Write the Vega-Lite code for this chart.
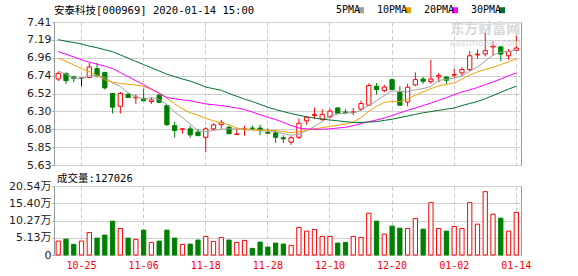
{
"$schema":"https://vega.github.io/schema/vega-lite/v6.json",
"background":"white",
"padding":{"left":8,"top":5,"right":5,"bottom":2},
"bounds":"flush",
"spacing":21,
"data":{"values":[
{"date":"2019-10-22","o":6.70,"h":6.79,"l":6.675,"c":6.77,"v":4.15,"5PMA":6.80,"10PMA":6.96,"20PMA":7.04,"30PMA":7.19},
{"date":"2019-10-23","o":6.77,"h":6.78,"l":6.64,"c":6.68,"v":4.74,"5PMA":6.76,"10PMA":6.92,"20PMA":7.01,"30PMA":7.17},
{"date":"2019-10-24","o":6.73,"h":6.74,"l":6.66,"c":6.71,"v":3.16,"5PMA":6.72,"10PMA":6.875,"20PMA":6.975,"30PMA":7.155},
{"date":"2019-10-25","o":6.71,"h":6.71,"l":6.61,"c":6.71,"v":4.15,"5PMA":6.70,"10PMA":6.83,"20PMA":6.94,"30PMA":7.136},
{"date":"2019-10-28","o":6.72,"h":6.90,"l":6.71,"c":6.85,"v":6.71,"5PMA":6.74,"10PMA":6.79,"20PMA":6.91,"30PMA":7.11},
{"date":"2019-10-29","o":6.83,"h":6.90,"l":6.72,"c":6.74,"v":5.03,"5PMA":6.74,"10PMA":6.745,"20PMA":6.885,"30PMA":7.09},
{"date":"2019-10-30","o":6.78,"h":6.79,"l":6.57,"c":6.59,"v":5.92,"5PMA":6.72,"10PMA":6.69,"20PMA":6.86,"30PMA":7.065},
{"date":"2019-10-31","o":6.52,"h":6.52,"l":6.27,"c":6.35,"v":10.07,"5PMA":6.65,"10PMA":6.66,"20PMA":6.83,"30PMA":7.04},
{"date":"2019-11-01","o":6.36,"h":6.54,"l":6.27,"c":6.52,"v":7.90,"5PMA":6.61,"10PMA":6.645,"20PMA":6.78,"30PMA":7.0},
{"date":"2019-11-04","o":6.51,"h":6.53,"l":6.47,"c":6.47,"v":5.03,"5PMA":6.53,"10PMA":6.635,"20PMA":6.73,"30PMA":6.96},
{"date":"2019-11-05","o":6.465,"h":6.51,"l":6.39,"c":6.475,"v":4.64,"5PMA":6.48,"10PMA":6.625,"20PMA":6.68,"30PMA":6.92},
{"date":"2019-11-06","o":6.46,"h":6.58,"l":6.43,"c":6.43,"v":7.40,"5PMA":6.45,"10PMA":6.61,"20PMA":6.63,"30PMA":6.88},
{"date":"2019-11-07","o":6.42,"h":6.47,"l":6.39,"c":6.44,"v":3.75,"5PMA":6.47,"10PMA":6.57,"20PMA":6.575,"30PMA":6.84},
{"date":"2019-11-08","o":6.50,"h":6.51,"l":6.40,"c":6.41,"v":4.15,"5PMA":6.445,"10PMA":6.53,"20PMA":6.52,"30PMA":6.80},
{"date":"2019-11-11","o":6.37,"h":6.38,"l":6.12,"c":6.13,"v":7.40,"5PMA":6.38,"10PMA":6.46,"20PMA":6.47,"30PMA":6.76},
{"date":"2019-11-12","o":6.12,"h":6.17,"l":5.97,"c":6.06,"v":5.03,"5PMA":6.29,"10PMA":6.39,"20PMA":6.455,"30PMA":6.73},
{"date":"2019-11-13","o":6.075,"h":6.085,"l":6.02,"c":6.08,"v":3.16,"5PMA":6.22,"10PMA":6.33,"20PMA":6.44,"30PMA":6.70},
{"date":"2019-11-14","o":6.08,"h":6.12,"l":5.97,"c":6.005,"v":3.26,"5PMA":6.14,"10PMA":6.28,"20PMA":6.43,"30PMA":6.675},
{"date":"2019-11-15","o":6.04,"h":6.08,"l":5.995,"c":5.995,"v":4.44,"5PMA":6.055,"10PMA":6.25,"20PMA":6.41,"30PMA":6.64},
{"date":"2019-11-18","o":5.975,"h":6.10,"l":5.79,"c":6.08,"v":5.53,"5PMA":6.045,"10PMA":6.21,"20PMA":6.39,"30PMA":6.60},
{"date":"2019-11-19","o":6.08,"h":6.15,"l":6.06,"c":6.13,"v":4.05,"5PMA":6.06,"10PMA":6.18,"20PMA":6.38,"30PMA":6.58},
{"date":"2019-11-20","o":6.135,"h":6.19,"l":6.08,"c":6.16,"v":5.23,"5PMA":6.075,"10PMA":6.155,"20PMA":6.37,"30PMA":6.56},
{"date":"2019-11-21","o":6.10,"h":6.12,"l":6.01,"c":6.02,"v":4.44,"5PMA":6.08,"10PMA":6.13,"20PMA":6.355,"30PMA":6.52},
{"date":"2019-11-22","o":6.01,"h":6.08,"l":6.01,"c":6.015,"v":3.75,"5PMA":6.08,"10PMA":6.09,"20PMA":6.34,"30PMA":6.485},
{"date":"2019-11-25","o":6.075,"h":6.12,"l":5.995,"c":6.08,"v":4.34,"5PMA":6.08,"10PMA":6.07,"20PMA":6.32,"30PMA":6.45},
{"date":"2019-11-26","o":6.09,"h":6.12,"l":6.06,"c":6.085,"v":1.97,"5PMA":6.07,"10PMA":6.065,"20PMA":6.29,"30PMA":6.42},
{"date":"2019-11-27","o":6.09,"h":6.13,"l":6.00,"c":6.065,"v":3.85,"5PMA":6.055,"10PMA":6.065,"20PMA":6.255,"30PMA":6.385},
{"date":"2019-11-28","o":6.035,"h":6.085,"l":6.02,"c":6.025,"v":2.37,"5PMA":6.055,"10PMA":6.06,"20PMA":6.225,"30PMA":6.35},
{"date":"2019-11-29","o":6.03,"h":6.06,"l":5.905,"c":5.975,"v":3.55,"5PMA":6.045,"10PMA":6.06,"20PMA":6.195,"30PMA":6.32},
{"date":"2019-12-02","o":5.97,"h":6.0,"l":5.905,"c":5.955,"v":3.26,"5PMA":6.02,"10PMA":6.045,"20PMA":6.16,"30PMA":6.295},
{"date":"2019-12-03","o":5.915,"h":5.99,"l":5.88,"c":5.97,"v":2.86,"5PMA":6.0,"10PMA":6.03,"20PMA":6.12,"30PMA":6.27},
{"date":"2019-12-04","o":5.975,"h":6.21,"l":5.95,"c":6.15,"v":8.19,"5PMA":6.015,"10PMA":6.045,"20PMA":6.09,"30PMA":6.25},
{"date":"2019-12-05","o":6.18,"h":6.235,"l":6.13,"c":6.225,"v":7.11,"5PMA":6.055,"10PMA":6.065,"20PMA":6.08,"30PMA":6.23},
{"date":"2019-12-06","o":6.245,"h":6.345,"l":6.20,"c":6.26,"v":7.60,"5PMA":6.11,"10PMA":6.08,"20PMA":6.075,"30PMA":6.215},
{"date":"2019-12-09","o":6.20,"h":6.325,"l":6.18,"c":6.26,"v":5.53,"5PMA":6.17,"10PMA":6.095,"20PMA":6.075,"30PMA":6.20},
{"date":"2019-12-10","o":6.23,"h":6.33,"l":6.21,"c":6.30,"v":5.53,"5PMA":6.24,"10PMA":6.11,"20PMA":6.08,"30PMA":6.19},
{"date":"2019-12-11","o":6.34,"h":6.35,"l":6.275,"c":6.275,"v":3.55,"5PMA":6.265,"10PMA":6.125,"20PMA":6.09,"30PMA":6.18},
{"date":"2019-12-12","o":6.29,"h":6.325,"l":6.26,"c":6.285,"v":3.75,"5PMA":6.275,"10PMA":6.14,"20PMA":6.10,"30PMA":6.17},
{"date":"2019-12-13","o":6.285,"h":6.34,"l":6.25,"c":6.29,"v":5.53,"5PMA":6.28,"10PMA":6.165,"20PMA":6.12,"30PMA":6.16},
{"date":"2019-12-16","o":6.325,"h":6.43,"l":6.31,"c":6.395,"v":5.23,"5PMA":6.31,"10PMA":6.22,"20PMA":6.145,"30PMA":6.16},
{"date":"2019-12-17","o":6.375,"h":6.645,"l":6.375,"c":6.62,"v":12.44,"5PMA":6.37,"10PMA":6.30,"20PMA":6.17,"30PMA":6.165},
{"date":"2019-12-18","o":6.61,"h":6.65,"l":6.505,"c":6.57,"v":10.07,"5PMA":6.43,"10PMA":6.36,"20PMA":6.19,"30PMA":6.17},
{"date":"2019-12-19","o":6.556,"h":6.627,"l":6.535,"c":6.60,"v":6.22,"5PMA":6.495,"10PMA":6.41,"20PMA":6.215,"30PMA":6.185},
{"date":"2019-12-20","o":6.693,"h":6.70,"l":6.56,"c":6.569,"v":8.59,"5PMA":6.55,"10PMA":6.42,"20PMA":6.245,"30PMA":6.20},
{"date":"2019-12-23","o":6.535,"h":6.61,"l":6.37,"c":6.374,"v":7.99,"5PMA":6.547,"10PMA":6.42,"20PMA":6.28,"30PMA":6.22},
{"date":"2019-12-24","o":6.415,"h":6.64,"l":6.36,"c":6.598,"v":7.90,"5PMA":6.542,"10PMA":6.45,"20PMA":6.31,"30PMA":6.24},
{"date":"2019-12-25","o":6.627,"h":6.784,"l":6.61,"c":6.693,"v":10.86,"5PMA":6.567,"10PMA":6.50,"20PMA":6.34,"30PMA":6.26},
{"date":"2019-12-26","o":6.70,"h":6.726,"l":6.64,"c":6.672,"v":7.70,"5PMA":6.581,"10PMA":6.54,"20PMA":6.37,"30PMA":6.28},
{"date":"2019-12-27","o":6.668,"h":6.94,"l":6.64,"c":6.70,"v":15.59,"5PMA":6.607,"10PMA":6.58,"20PMA":6.40,"30PMA":6.295},
{"date":"2019-12-30","o":6.726,"h":6.776,"l":6.66,"c":6.743,"v":7.90,"5PMA":6.681,"10PMA":6.615,"20PMA":6.435,"30PMA":6.31},
{"date":"2019-12-31","o":6.726,"h":6.735,"l":6.64,"c":6.685,"v":7.11,"5PMA":6.699,"10PMA":6.635,"20PMA":6.47,"30PMA":6.325},
{"date":"2020-01-02","o":6.75,"h":6.83,"l":6.71,"c":6.755,"v":8.49,"5PMA":6.711,"10PMA":6.65,"20PMA":6.505,"30PMA":6.34},
{"date":"2020-01-03","o":6.776,"h":6.846,"l":6.735,"c":6.817,"v":7.90,"5PMA":6.74,"10PMA":6.70,"20PMA":6.54,"30PMA":6.37},
{"date":"2020-01-06","o":6.817,"h":7.05,"l":6.80,"c":6.99,"v":15.59,"5PMA":6.798,"10PMA":6.75,"20PMA":6.565,"30PMA":6.395},
{"date":"2020-01-07","o":7.0,"h":7.066,"l":6.95,"c":7.01,"v":9.18,"5PMA":6.851,"10PMA":6.79,"20PMA":6.595,"30PMA":6.42},
{"date":"2020-01-08","o":7.012,"h":7.28,"l":6.983,"c":7.053,"v":18.85,"5PMA":6.925,"10PMA":6.82,"20PMA":6.63,"30PMA":6.455},
{"date":"2020-01-09","o":7.10,"h":7.17,"l":6.99,"c":7.11,"v":12.14,"5PMA":6.996,"10PMA":6.845,"20PMA":6.665,"30PMA":6.495},
{"date":"2020-01-10","o":7.10,"h":7.107,"l":6.92,"c":7.01,"v":10.96,"5PMA":7.035,"10PMA":6.88,"20PMA":6.70,"30PMA":6.535},
{"date":"2020-01-13","o":6.99,"h":7.074,"l":6.94,"c":7.045,"v":7.11,"5PMA":7.046,"10PMA":6.915,"20PMA":6.74,"30PMA":6.575},
{"date":"2020-01-14","o":7.057,"h":7.24,"l":7.057,"c":7.086,"v":12.70,"5PMA":7.061,"10PMA":6.95,"20PMA":6.776,"30PMA":6.61}
]},
"config":{
"view":{"stroke":"#999","strokeWidth":1},
"axis":{"domain":false,"title":null,"gridColor":"#d0d0d0","gridWidth":1,"tickColor":"#999","labelFont":"DejaVu Sans, Noto Sans CJK SC","labelFontSize":11,"labelColor":"#222","labelOverlap":false},
"axisY":{"labelOverlap":false},
"axisQuantitative":{"labelOverlap":false}
},
"vconcat":[
{
"width":467,"height":143,
"title":{"text":"安泰科技[000969] 2020-01-14 15:00","anchor":"start","frame":"group","font":"DejaVu Sans Mono, Noto Sans CJK SC","fontSize":10.5,"fontWeight":"normal","color":"#000","baseline":"alphabetic","offset":-8},
"encoding":{
"x":{"field":"date","type":"ordinal","scale":{"paddingInner":0.45,"paddingOuter":0.3,"align":0.45},
"axis":{"values":["2019-10-25","2019-11-06","2019-11-18","2019-11-28","2019-12-10","2019-12-20","2020-01-02","2020-01-14"],"labels":false,"ticks":false,"grid":true,"gridDash":[4,3],"gridColor":"#c8c8c8","bandPosition":0.5}}
},
"layer":[
{"mark":{"type":"rule","strokeWidth":1},
"encoding":{
"y":{"field":"l","type":"quantitative","scale":{"domain":[5.63,7.41],"nice":false,"zero":false},
"axis":{"values":[5.63,5.8525,6.075,6.2975,6.52,6.7425,6.965,7.1875,7.41],"format":".2f","tickSize":2,"labelPadding":1,"grid":true,"labelOverlap":false,"labelFlush":false}},
"y2":{"field":"h"},
"stroke":{"condition":[{"test":"datum.c > datum.o","value":"#ff0000"},{"test":"datum.c == datum.o","value":"#000000"}],"value":"#008000"}
}},
{"mark":{"type":"bar","strokeWidth":1},
"encoding":{
"y":{"field":"o","type":"quantitative","axis":{"values":[5.63,5.8525,6.075,6.2975,6.52,6.7425,6.965,7.1875,7.41],"format":".2f","tickSize":2,"labelPadding":1,"grid":true,"labelOverlap":false,"labelFlush":false}},
"y2":{"field":"c"},
"stroke":{"condition":[{"test":"datum.c > datum.o","value":"#ff0000"},{"test":"datum.c == datum.o","value":"#000000"}],"value":"#008000"},
"fill":{"condition":[{"test":"datum.c > datum.o","value":"#ffffff"},{"test":"datum.c == datum.o","value":"#000000"}],"value":"#008000"}
}},
{"transform":[{"fold":["5PMA","10PMA","20PMA","30PMA"],"as":["ma","val"]}],
"mark":{"type":"line","strokeWidth":1},
"encoding":{
"y":{"field":"val","type":"quantitative","axis":{"values":[5.63,5.8525,6.075,6.2975,6.52,6.7425,6.965,7.1875,7.41],"format":".2f","tickSize":2,"labelPadding":1,"grid":true,"labelOverlap":false,"labelFlush":false}},
"color":{"field":"ma","type":"nominal","scale":{"domain":["5PMA","10PMA","20PMA","30PMA"],"range":["#a0a0a0","#f0a000","#ff00ff","#007030"]},
"legend":{"orient":"none","legendX":299,"legendY":-17,"direction":"horizontal","title":null,"symbolType":"square","symbolSize":1,"symbolStrokeWidth":5,"labelFont":"DejaVu Sans Mono","labelFontSize":10,"labelColor":"#000","labelAlign":"right","labelOffset":-6,"symbolOffset":3,"columnPadding":4}}
}},
{"data":{"values":[{}]},
"mark":{"type":"text","font":"Noto Sans CJK SC","fontSize":14,"fontWeight":"bold","color":"#d8d8d8"},
"encoding":{"x":{"datum":"2020-01-08"},"y":{"datum":7.32,"type":"quantitative","axis":{"values":[5.63,5.8525,6.075,6.2975,6.52,6.7425,6.965,7.1875,7.41],"format":".2f","tickSize":2,"labelPadding":1,"grid":true,"labelOverlap":false,"labelFlush":false}},"text":{"value":"东方财富网"}}},
{"data":{"values":[{}]},
"mark":{"type":"text","font":"DejaVu Sans","fontSize":9,"color":"#d8d8d8"},
"encoding":{"x":{"datum":"2020-01-08"},"y":{"datum":7.15,"type":"quantitative","axis":{"values":[5.63,5.8525,6.075,6.2975,6.52,6.7425,6.965,7.1875,7.41],"format":".2f","tickSize":2,"labelPadding":1,"grid":true,"labelOverlap":false,"labelFlush":false}},"text":{"value":"eastmoney.com"}}}
]
},
{
"width":467,"height":69,
"title":{"text":"成交量:127026","anchor":"start","frame":"group","font":"DejaVu Sans Mono, Noto Sans CJK SC","fontSize":10.5,"fontWeight":"normal","color":"#000","baseline":"alphabetic","offset":-12,"dx":3},
"mark":{"type":"bar","strokeWidth":1},
"encoding":{
"x":{"field":"date","type":"ordinal","scale":{"paddingInner":0.45,"paddingOuter":0.3,"align":0.45},
"axis":{"values":["2019-10-25","2019-11-06","2019-11-18","2019-11-28","2019-12-10","2019-12-20","2020-01-02","2020-01-14"],"labelExpr":"substring(datum.value, 5)","ticks":false,"grid":true,"gridDash":[4,3],"gridColor":"#c8c8c8","bandPosition":0.5,"labelColor":"#ff0000","labelFont":"DejaVu Sans Mono","labelFontSize":10,"labelPadding":5,"labelAngle":0}},
"y":{"field":"v","type":"quantitative","scale":{"domain":[0,20.54],"nice":false},
"axis":{"values":[0,5.13,10.27,15.40,20.54],"labelExpr":"datum.value == 0 ? '0' : format(datum.value, '.2f') + '万'","tickSize":2,"labelPadding":1,"grid":true}},
"stroke":{"condition":{"test":"datum.c >= datum.o","value":"#ff0000"},"value":"#008000"},
"fill":{"condition":{"test":"datum.c >= datum.o","value":"#ffffff"},"value":"#008000"}
}
}
]
}
